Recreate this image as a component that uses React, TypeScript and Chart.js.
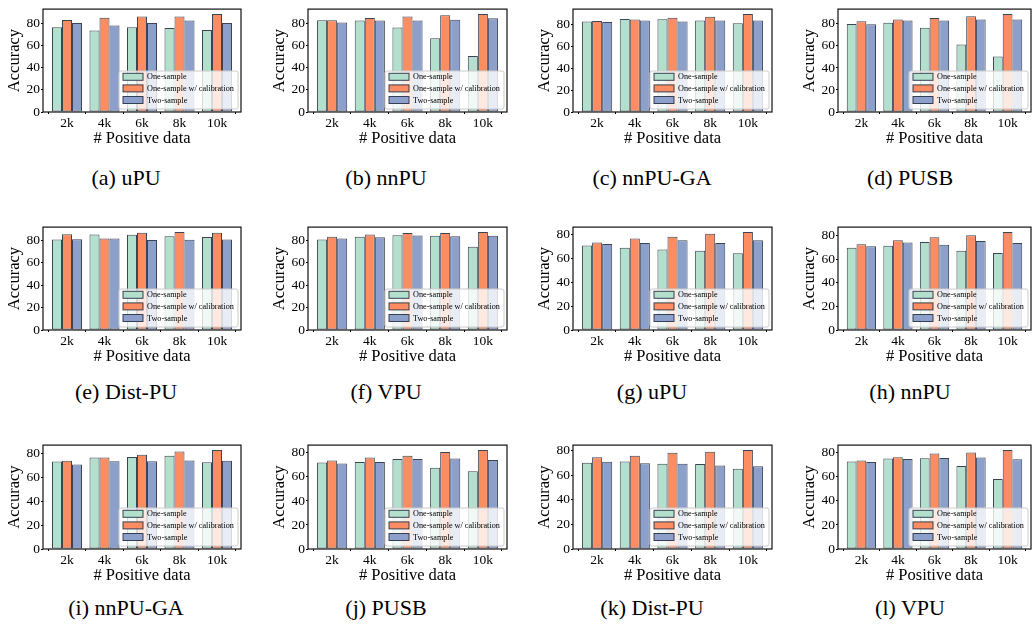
import React, { useEffect, useRef } from 'react';
import { Chart, registerables } from 'chart.js';

Chart.register(...registerables);

// ---------- data ----------
const categories = ['2k', '4k', '6k', '8k', '10k'];
const seriesLabels = ['One-sample', 'One-sample w/ calibration', 'Two-sample'];
const captions = [
  '(a) uPU', '(b) nnPU', '(c) nnPU-GA', '(d) PUSB',
  '(e) Dist-PU', '(f) VPU', '(g) uPU', '(h) nnPU',
  '(i) nnPU-GA', '(j) PUSB', '(k) Dist-PU', '(l) VPU',
];
const xTitle = '# Positive data';
const yTitle = 'Accuracy';

const aOne = [76.6, 73.7, 76.6, 76.0, 74.3];
const aCal = [83.3, 85.3, 86.4, 86.4, 88.7];
const aTwo = [80.5, 78.2, 80.5, 82.8, 80.5];

const bOne = [82.9, 82.6, 76.4, 66.6, 50.6];
const bCal = [82.9, 84.8, 86.2, 87.4, 88.5];
const bTwo = [80.9, 82.6, 82.6, 83.4, 84.6];

const cOne = [82.6, 84.8, 84.5, 83.4, 80.9];
const cCal = [83.1, 84.3, 86.0, 86.8, 89.4];
const cTwo = [82.0, 83.4, 82.6, 83.4, 83.4];

const dOne = [80.0, 81.0, 76.6, 61.3, 50.3];
const dCal = [82.5, 83.9, 85.3, 87.0, 89.0];
const dTwo = [79.7, 83.0, 83.0, 83.9, 83.9];

const eOne = [80.8, 85.3, 85.0, 83.6, 83.1];
const eCal = [85.6, 81.7, 86.9, 87.5, 86.9];
const eTwo = [81.1, 81.7, 80.3, 80.6, 80.8];

const fOne = [80.8, 83.3, 84.7, 84.2, 74.4];
const fCal = [83.3, 85.3, 86.7, 86.7, 87.5];
const fTwo = [81.7, 82.8, 84.4, 83.6, 84.2];

const gOne = [70.6, 68.8, 67.4, 66.4, 64.3];
const gCal = [73.2, 76.6, 78.1, 80.5, 82.0];
const gTwo = [71.9, 72.7, 75.0, 72.7, 75.0];

const hOne = [69.9, 71.5, 74.7, 67.3, 65.4];
const hCal = [72.8, 76.3, 78.7, 80.5, 83.2];
const hTwo = [71.0, 74.2, 72.3, 75.5, 73.9];

const iOne = [73.4, 76.6, 77.1, 78.1, 72.6];
const iCal = [73.9, 76.6, 78.9, 81.6, 82.9];
const iTwo = [70.7, 73.6, 73.6, 74.2, 73.9];

const jOne = [72.1, 72.4, 75.0, 67.6, 64.7];
const jCal = [73.7, 76.1, 77.6, 80.8, 82.4];
const jTwo = [71.1, 72.4, 75.0, 75.3, 74.2];

const kOne = [70.2, 71.2, 69.4, 69.2, 65.3];
const kCal = [74.6, 75.9, 78.2, 79.2, 80.5];
const kTwo = [71.0, 69.7, 69.4, 67.9, 67.4];

const lOne = [72.8, 75.2, 75.5, 69.1, 58.3];
const lCal = [73.6, 76.3, 79.4, 80.2, 82.3];
const lTwo = [72.3, 74.9, 75.7, 76.0, 74.7];

const panelSeries = [
  [aOne, aCal, aTwo], [bOne, bCal, bTwo], [cOne, cCal, cTwo], [dOne, dCal, dTwo],
  [eOne, eCal, eTwo], [fOne, fCal, fTwo], [gOne, gCal, gTwo], [hOne, hCal, hTwo],
  [iOne, iCal, iTwo], [jOne, jCal, jTwo], [kOne, kCal, kTwo], [lOne, lCal, lTwo],
];

// ---------- styles / layout ----------
const seriesColors = ['#b3dfcd', '#fc8d62', '#8da0cb'];
const edgeColor = 'rgba(38,48,66,0.9)';
const FAMILY = '"Liberation Serif", "DejaVu Serif", serif';

const colLefts = [43, 308, 573, 838];
const colWidths = [198, 199, 199, 193];
const rowTops = [3, 221, 439];
const rowHeights = [109, 109, 110];
const captionCenters = [126, 386, 652, 910];
const captionYs = [178, 392, 608];

const Y_AXIS_W = 43;
const X_AXIS_H = 40;
const PAD_T = 3;
const PAD_R = 3;

const framePlugin = {
  id: 'frameAndLegend',
  afterDraw(chart: any) {
    const { ctx, chartArea } = chart;
    const { left, top, right, bottom } = chartArea;
    ctx.save();
    // frame
    ctx.strokeStyle = '#111';
    ctx.lineWidth = 1.2;
    ctx.strokeRect(left, top, right - left, bottom - top);

    // legend (inside, lower right)
    const lw = 119;
    const lh = 38;
    const lx = right - 3 - lw;
    const ly = bottom - 3 - lh;
    ctx.beginPath();
    if ((ctx as any).roundRect) (ctx as any).roundRect(lx, ly, lw, lh, 2);
    else ctx.rect(lx, ly, lw, lh);
    ctx.fillStyle = 'rgba(255,255,255,0.8)';
    ctx.fill();
    ctx.strokeStyle = '#cccccc';
    ctx.lineWidth = 1;
    ctx.stroke();

    ctx.font = `8.2px ${FAMILY}`;
    ctx.textBaseline = 'middle';
    ctx.textAlign = 'left';
    chart.data.datasets.forEach((ds: any, k: number) => {
      const cy = ly + 5.8 + k * 11.6;
      ctx.fillStyle = ds.backgroundColor;
      ctx.fillRect(lx + 4, cy - 3.5, 20, 7);
      ctx.strokeStyle = edgeColor;
      ctx.lineWidth = 1;
      ctx.strokeRect(lx + 4, cy - 3.5, 20, 7);
      ctx.fillStyle = '#000';
      ctx.fillText(ds.label, lx + 28, cy + 0.5);
    });
    ctx.restore();
  },
};

function Panel({ series, plotLeft, plotTop, plotW, plotH }: any) {
  const ref = useRef<HTMLCanvasElement | null>(null);
  const cw = Y_AXIS_W + plotW + PAD_R;
  const ch = PAD_T + plotH + X_AXIS_H;

  useEffect(() => {
    if (!ref.current) return;
    const allVals = ([] as number[]).concat(...series);
    const yMax = Math.max(...allVals) * 1.05;
    const tickFont = { family: FAMILY, size: 13.5 };
    const titleFont = { family: FAMILY, size: 16.5 };
    const chart = new Chart(ref.current, {
      type: 'bar',
      data: {
        datasets: series.map((vals: number[], k: number) => ({
          label: seriesLabels[k],
          data: vals.map((v, i) => ({ x: i, y: v })),
          backgroundColor: seriesColors[k],
          borderColor: edgeColor,
          borderWidth: 1,
          borderSkipped: false,
          categoryPercentage: 0.8,
          barPercentage: 1,
        })),
      },
      options: {
        responsive: false,
        animation: false,
        devicePixelRatio: 1,
        layout: { padding: { top: PAD_T, right: PAD_R, left: 0, bottom: 0 } },
        plugins: { legend: { display: false }, tooltip: { enabled: false } },
        scales: {
          x: {
            type: 'linear',
            min: -0.64,
            max: 4.64,
            offset: false,
            afterFit: (s: any) => { s.height = X_AXIS_H; },
            ticks: {
              stepSize: 1,
              includeBounds: false,
              autoSkip: false,
              maxRotation: 0,
              padding: 1,
              color: '#000',
              font: tickFont,
              callback: (v: any) => {
                const i = Math.round(Number(v));
                return Math.abs(Number(v) - i) < 1e-6 ? categories[i] ?? '' : '';
              },
            },
            grid: { display: true, drawOnChartArea: false, drawTicks: true, tickLength: 2, color: '#000' },
            border: { display: false },
            title: { display: true, text: xTitle, color: '#000', font: titleFont, padding: { top: 0, bottom: 3 } },
          },
          y: {
            type: 'linear',
            min: 0,
            max: yMax,
            afterFit: (s: any) => { s.width = Y_AXIS_W; },
            ticks: { stepSize: 20, includeBounds: false, padding: 1, color: '#000', font: tickFont },
            grid: { display: true, drawOnChartArea: false, drawTicks: true, tickLength: 2, color: '#000' },
            border: { display: false },
            title: { display: true, text: yTitle, color: '#000', font: titleFont, padding: { top: 5, bottom: 0 } },
          },
        },
      } as any,
      plugins: [framePlugin],
    });
    return () => chart.destroy();
  }, []);

  return (
    <canvas
      ref={ref}
      width={cw}
      height={ch}
      style={{ position: 'absolute', left: plotLeft - Y_AXIS_W, top: plotTop - PAD_T, width: cw, height: ch }}
    />
  );
}

export default function App() {
  return (
    <div style={{ position: 'absolute', left: 0, top: 0, width: 1034, height: 627, background: '#fff', overflow: 'hidden' }}>
      {panelSeries.map((series, idx) => {
        const r = Math.floor(idx / 4);
        const c = idx % 4;
        return (
          <React.Fragment key={idx}>
            <Panel
              series={series}
              plotLeft={colLefts[c]}
              plotTop={rowTops[r]}
              plotW={colWidths[c]}
              plotH={rowHeights[r]}
            />
            <div
              style={{
                position: 'absolute',
                left: captionCenters[c],
                top: captionYs[r] - 11,
                transform: 'translateX(-50%)',
                fontFamily: FAMILY,
                fontSize: 22,
                lineHeight: '22px',
                whiteSpace: 'nowrap',
                color: '#000',
              }}
            >
              {captions[idx]}
            </div>
          </React.Fragment>
        );
      })}
    </div>
  );
}
